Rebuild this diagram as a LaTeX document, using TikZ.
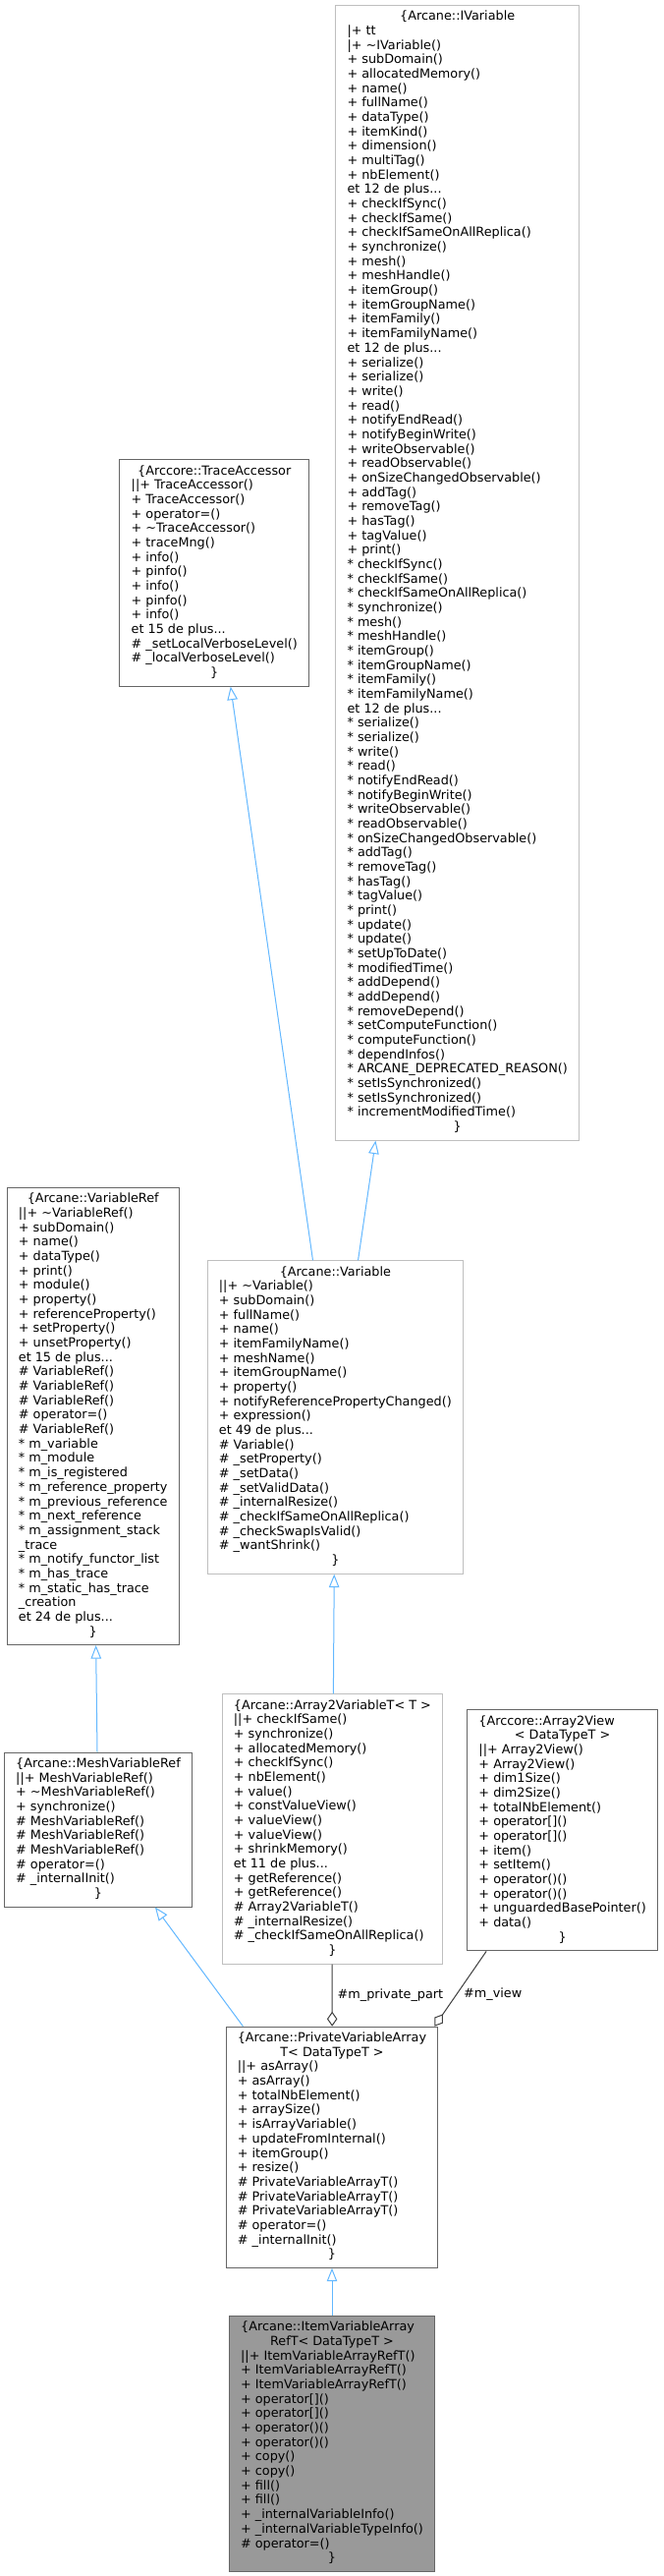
\documentclass[tikz,border=0pt]{standalone}
\usepackage{fontspec}
\setmainfont{DejaVu Sans}
\usetikzlibrary{arrows.meta}
\definecolor{inhblue}{HTML}{63B8FF}
\definecolor{compgrey}{HTML}{404040}
\definecolor{borderdark}{HTML}{666666}
\definecolor{borderlight}{HTML}{BFBFBF}
\definecolor{selfill}{HTML}{999999}
\newcommand{\mkctr}[1]{\multicolumn{1}{@{}c@{}}{#1}}
\begin{document}
\begin{tikzpicture}[x=1pt,y=-1pt,
  font=\fontsize{12.8}{14.67}\selectfont,
  cls/.style={draw=borderdark, line width=1pt, fill=white, inner xsep=11.7pt, inner ysep=5.15pt, text=black},
  clslight/.style={cls, draw=borderlight},
  clssel/.style={cls, fill=selfill},
  inh/.style={draw=inhblue, line width=1pt, -{Triangle[length=13.5pt,width=10.5pt,fill=white]}},
  comp/.style={draw=compgrey, line width=1pt, {Diamond[length=15pt,width=10.5pt,fill=white]}-},
  lbl/.style={inner sep=0pt, text=black}]
\useasboundingbox (0,0) rectangle (675,2621);
\fill[white] (0,0) rectangle (675,2621);

\node[clslight, anchor=north east] (iv) at (590,5) {\begin{tabular}{@{}l@{}}
\mkctr{\{Arcane::IVariable}\\
|+ tt\\
|+ \textasciitilde IVariable()\\
+ subDomain()\\
+ allocatedMemory()\\
+ name()\\
+ fullName()\\
+ dataType()\\
+ itemKind()\\
+ dimension()\\
+ multiTag()\\
+ nbElement()\\
et 12 de plus...\\
+ checkIfSync()\\
+ checkIfSame()\\
+ checkIfSameOnAllReplica()\\
+ synchronize()\\
+ mesh()\\
+ meshHandle()\\
+ itemGroup()\\
+ itemGroupName()\\
+ itemFamily()\\
+ itemFamilyName()\\
et 12 de plus...\\
+ serialize()\\
+ serialize()\\
+ write()\\
+ read()\\
+ notifyEndRead()\\
+ notifyBeginWrite()\\
+ writeObservable()\\
+ readObservable()\\
+ onSizeChangedObservable()\\
+ addTag()\\
+ removeTag()\\
+ hasTag()\\
+ tagValue()\\
+ print()\\
{*} checkIfSync()\\
{*} checkIfSame()\\
{*} checkIfSameOnAllReplica()\\
{*} synchronize()\\
{*} mesh()\\
{*} meshHandle()\\
{*} itemGroup()\\
{*} itemGroupName()\\
{*} itemFamily()\\
{*} itemFamilyName()\\
et 12 de plus...\\
{*} serialize()\\
{*} serialize()\\
{*} write()\\
{*} read()\\
{*} notifyEndRead()\\
{*} notifyBeginWrite()\\
{*} writeObservable()\\
{*} readObservable()\\
{*} onSizeChangedObservable()\\
{*} addTag()\\
{*} removeTag()\\
{*} hasTag()\\
{*} tagValue()\\
{*} print()\\
{*} update()\\
{*} update()\\
{*} setUpToDate()\\
{*} modifiedTime()\\
{*} addDepend()\\
{*} addDepend()\\
{*} removeDepend()\\
{*} setComputeFunction()\\
{*} computeFunction()\\
{*} dependInfos()\\
{*} ARCANE\_DEPRECATED\_REASON()\\
{*} setIsSynchronized()\\
{*} setIsSynchronized()\\
{*} incrementModifiedTime()\\
\mkctr{\}}
\end{tabular}};

\node[cls, anchor=north east] (tra) at (315,467.3) {\begin{tabular}{@{}l@{}}
\mkctr{\{Arccore::TraceAccessor}\\
||+ TraceAccessor()\\
+ TraceAccessor()\\
+ operator=()\\
+ \textasciitilde TraceAccessor()\\
+ traceMng()\\
+ info()\\
+ pinfo()\\
+ info()\\
+ pinfo()\\
+ info()\\
et 15 de plus...\\
\# \_setLocalVerboseLevel()\\
\# \_localVerboseLevel()\\
\mkctr{\}}
\end{tabular}};

\node[cls, anchor=north west] (vref) at (6.7,1208) {\begin{tabular}{@{}l@{}}
\mkctr{\{Arcane::VariableRef}\\
||+ \textasciitilde VariableRef()\\
+ subDomain()\\
+ name()\\
+ dataType()\\
+ print()\\
+ module()\\
+ property()\\
+ referenceProperty()\\
+ setProperty()\\
+ unsetProperty()\\
et 15 de plus...\\
\# VariableRef()\\
\# VariableRef()\\
\# VariableRef()\\
\# operator=()\\
\# VariableRef()\\
{*} m\_variable\\
{*} m\_module\\
{*} m\_is\_registered\\
{*} m\_reference\_property\\
{*} m\_previous\_reference\\
{*} m\_next\_reference\\
{*} m\_assignment\_stack\\
\_trace\\
{*} m\_notify\_functor\_list\\
{*} m\_has\_trace\\
{*} m\_static\_has\_trace\\
\_creation\\
et 24 de plus...\\
\mkctr{\}}
\end{tabular}};

\node[clslight, anchor=north west] (var) at (210.7,1282.3) {\begin{tabular}{@{}l@{}}
\mkctr{\{Arcane::Variable}\\
||+ \textasciitilde Variable()\\
+ subDomain()\\
+ fullName()\\
+ name()\\
+ itemFamilyName()\\
+ meshName()\\
+ itemGroupName()\\
+ property()\\
+ notifyReferencePropertyChanged()\\
+ expression()\\
et 49 de plus...\\
\# Variable()\\
\# \_setProperty()\\
\# \_setData()\\
\# \_setValidData()\\
\# \_internalResize()\\
\# \_checkIfSameOnAllReplica()\\
\# \_checkSwapIsValid()\\
\# \_wantShrink()\\
\mkctr{\}}
\end{tabular}};

\node[cls, anchor=north west] (mvr) at (4,1782.5) {\begin{tabular}{@{}l@{}}
\mkctr{\{Arcane::MeshVariableRef}\\
||+ MeshVariableRef()\\
+ \textasciitilde MeshVariableRef()\\
+ synchronize()\\
\# MeshVariableRef()\\
\# MeshVariableRef()\\
\# MeshVariableRef()\\
\# operator=()\\
\# \_internalInit()\\
\mkctr{\}}
\end{tabular}};

\node[clslight, anchor=north west] (a2v) at (225.7,1723.3) {\begin{tabular}{@{}l@{}}
\mkctr{\{Arcane::Array2VariableT\textless{} T \textgreater}\\
||+ checkIfSame()\\
+ synchronize()\\
+ allocatedMemory()\\
+ checkIfSync()\\
+ nbElement()\\
+ value()\\
+ constValueView()\\
+ valueView()\\
+ valueView()\\
+ shrinkMemory()\\
et 11 de plus...\\
+ getReference()\\
+ getReference()\\
\# Array2VariableT()\\
\# \_internalResize()\\
\# \_checkIfSameOnAllReplica()\\
\mkctr{\}}
\end{tabular}};

\node[cls, anchor=north east] (a2view) at (670,1739.3) {\begin{tabular}{@{}l@{}}
\{Arccore::Array2View\\
\mkctr{\textless{} DataTypeT \textgreater}\\
||+ Array2View()\\
+ Array2View()\\
+ dim1Size()\\
+ dim2Size()\\
+ totalNbElement()\\
+ operator[]()\\
+ operator[]()\\
+ item()\\
+ setItem()\\
+ operator()()\\
+ operator()()\\
+ unguardedBasePointer()\\
+ data()\\
\mkctr{\}}
\end{tabular}};

\node[cls, anchor=north] (pva) at (338,2061.7) {\begin{tabular}{@{}l@{}}
\{Arcane::PrivateVariableArray\\
\mkctr{T\textless{} DataTypeT \textgreater}\\
||+ asArray()\\
+ asArray()\\
+ totalNbElement()\\
+ arraySize()\\
+ isArrayVariable()\\
+ updateFromInternal()\\
+ itemGroup()\\
+ resize()\\
\# PrivateVariableArrayT()\\
\# PrivateVariableArrayT()\\
\# PrivateVariableArrayT()\\
\# operator=()\\
\# \_internalInit()\\
\mkctr{\}}
\end{tabular}};

\node[clssel, anchor=north] (ivar) at (338,2356) {\begin{tabular}{@{}l@{}}
\{Arcane::ItemVariableArray\\
\mkctr{RefT\textless{} DataTypeT \textgreater}\\
||+ ItemVariableArrayRefT()\\
+ ItemVariableArrayRefT()\\
+ ItemVariableArrayRefT()\\
+ operator[]()\\
+ operator[]()\\
+ operator()()\\
+ operator()()\\
+ copy()\\
+ copy()\\
+ fill()\\
+ fill()\\
+ \_internalVariableInfo()\\
+ \_internalVariableTypeInfo()\\
\# operator=()\\
\mkctr{\}}
\end{tabular}};

\draw[inh] (var) -- (tra);
\draw[inh] (var) -- (iv);
\draw[inh] (a2v) -- (var);
\draw[inh] (mvr) -- (vref);
\draw[inh] (pva) -- (mvr);
\draw[inh] (ivar) -- (pva);
\draw[comp] (pva) -- node[lbl, anchor=west, xshift=5pt] {\#m\_private\_part} (a2v);
\draw[comp] ([xshift=-4pt]pva.north east) -- node[lbl, anchor=west, xshift=3pt, yshift=-6pt] {\#m\_view} ([xshift=-77.5pt]a2view.south);
\end{tikzpicture}
\end{document}
